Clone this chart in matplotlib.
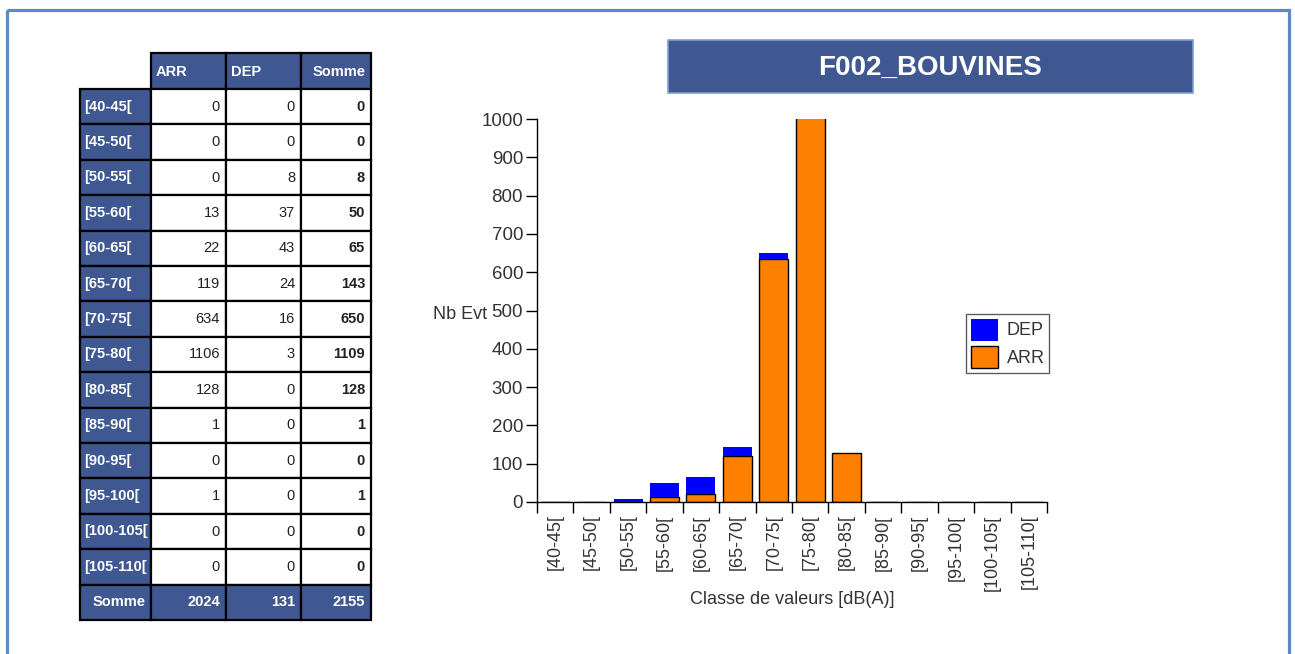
import matplotlib
matplotlib.use("Agg")
import matplotlib.pyplot as plt
from matplotlib.patches import Rectangle, Patch

plt.rcParams["font.family"] = ["Liberation Sans", "DejaVu Sans"]

# data
classes = ["[40-45[", "[45-50[", "[50-55[", "[55-60[", "[60-65[", "[65-70[", "[70-75[",
           "[75-80[", "[80-85[", "[85-90[", "[90-95[", "[95-100[", "[100-105[", "[105-110["]
arr = [0, 0, 0, 13, 22, 119, 634, 1106, 128, 1, 0, 1, 0, 0]
dep = [0, 0, 8, 37, 43, 24, 16, 3, 0, 0, 0, 0, 0, 0]
columns = ["ARR", "DEP", "Somme"]
title = "F002_BOUVINES"

W, H = 1295, 654
HEAD = "#3f5891"
ORANGE = "#ff8000"
BLUE = "#0000ff"
TXT = "#333333"

somme = [a + d for a, d in zip(arr, dep)]

fig = plt.figure(figsize=(W / 100, H / 100), dpi=100)
bg = fig.add_axes([0, 0, 1, 1])
bg.set_xlim(0, W)
bg.set_ylim(H, 0)
bg.axis("off")

# outer frame
bg.add_patch(Rectangle((6.5, 9.5), 1282.5, 700, fill=False, edgecolor="#5b8ac8", linewidth=2.3))

# table
col_x = [80, 151, 226, 301, 371]
top = 53
row_h = 35.4
lw = 1.6
fs = 10.5
for j, name in enumerate(columns):
    x0, x1 = col_x[j + 1], col_x[j + 2]
    bg.add_patch(Rectangle((x0, top), x1 - x0, 36, facecolor=HEAD, edgecolor="black", linewidth=lw))
    if name == "Somme":
        bg.text(x1 - 5, top + 19, name, color="white", fontsize=fs, fontweight="bold", ha="right", va="center")
    else:
        bg.text(x0 + 5, top + 19, name, color="white", fontsize=fs, fontweight="bold", ha="left", va="center")

rows = list(zip(classes, arr, dep, somme)) + [("Somme", sum(arr), sum(dep), sum(somme))]
for i, (lab, a, d, s) in enumerate(rows):
    y0 = 89 + i * row_h
    total = lab == "Somme"
    bg.add_patch(Rectangle((col_x[0], y0), col_x[1] - col_x[0], row_h, facecolor=HEAD, edgecolor="black", linewidth=lw))
    if total:
        bg.text(col_x[1] - 5, y0 + row_h / 2, lab, color="white", fontsize=fs, fontweight="bold", ha="right", va="center")
    else:
        bg.text(col_x[0] + 4, y0 + row_h / 2, lab, color="white", fontsize=fs, fontweight="bold", ha="left", va="center")
    for j, v in enumerate([a, d, s]):
        x0, x1 = col_x[j + 1], col_x[j + 2]
        face = HEAD if total else "white"
        bg.add_patch(Rectangle((x0, y0), x1 - x0, row_h, facecolor=face, edgecolor="black", linewidth=lw))
        color = "white" if total else "#222222"
        weight = "bold" if (total or j == 2) else "normal"
        bg.text(x1 - 6, y0 + row_h / 2, str(v), color=color, fontsize=fs, fontweight=weight, ha="right", va="center")

# title box
bg.add_patch(Rectangle((668, 40), 525, 53, facecolor=HEAD, edgecolor="#7f9ed6", linewidth=1.2))
bg.text(930, 68, title, color="white", fontsize=20, fontweight="bold", ha="center", va="center")

# bar chart
ax = fig.add_axes([537 / W, 1 - 502 / H, (1047 - 537) / W, (502 - 119) / H])
xs = list(range(len(classes)))
ax.bar(xs, arr, width=0.8, color=ORANGE, edgecolor="black", linewidth=1.0, zorder=2)
ax.bar(xs, dep, width=0.8, bottom=arr, color=BLUE, edgecolor="none", zorder=2)
ax.set_xlim(-0.5, len(classes) - 0.5)
ax.set_ylim(0, 1000)
ax.set_yticks(range(0, 1001, 100))
ax.set_xticks(xs)
ax.set_xticklabels(classes, rotation=90, fontsize=13, color=TXT)
ax.set_xticks([x - 0.5 for x in xs] + [len(classes) - 0.5], minor=True)
ax.tick_params(axis="x", which="major", length=0, pad=9)
ax.tick_params(axis="x", which="minor", length=8, width=1.0, direction="out")
ax.tick_params(axis="y", length=8, width=1.0, pad=2, labelsize=13.5, labelcolor=TXT)
for side in ("top", "right"):
    ax.spines[side].set_visible(False)
ax.spines["left"].set_linewidth(1.0)
ax.spines["bottom"].set_linewidth(1.0)
ax.set_xlabel("Classe de valeurs [dB(A)]", fontsize=13, color=TXT, labelpad=0)
ax.set_ylabel("Nb Evt", fontsize=13, color=TXT, rotation=0, ha="right", va="center")
ax.yaxis.set_label_coords(-0.098, 0.49)

handles = [Patch(facecolor=BLUE, edgecolor="none"), Patch(facecolor=ORANGE, edgecolor="black")]
leg = fig.legend(handles, ["DEP", "ARR"], loc="upper left", bbox_to_anchor=(966 / W, 1 - 314 / H),
                 frameon=True, fancybox=False, fontsize=13, handlelength=1.5, handleheight=1.5,
                 labelspacing=0.3, borderpad=0.25, handletextpad=0.5, borderaxespad=0)
leg.get_frame().set_edgecolor(TXT)
leg.get_frame().set_linewidth(1.0)
for t in leg.get_texts():
    t.set_color(TXT)

fig.savefig("out.png", dpi=100)
